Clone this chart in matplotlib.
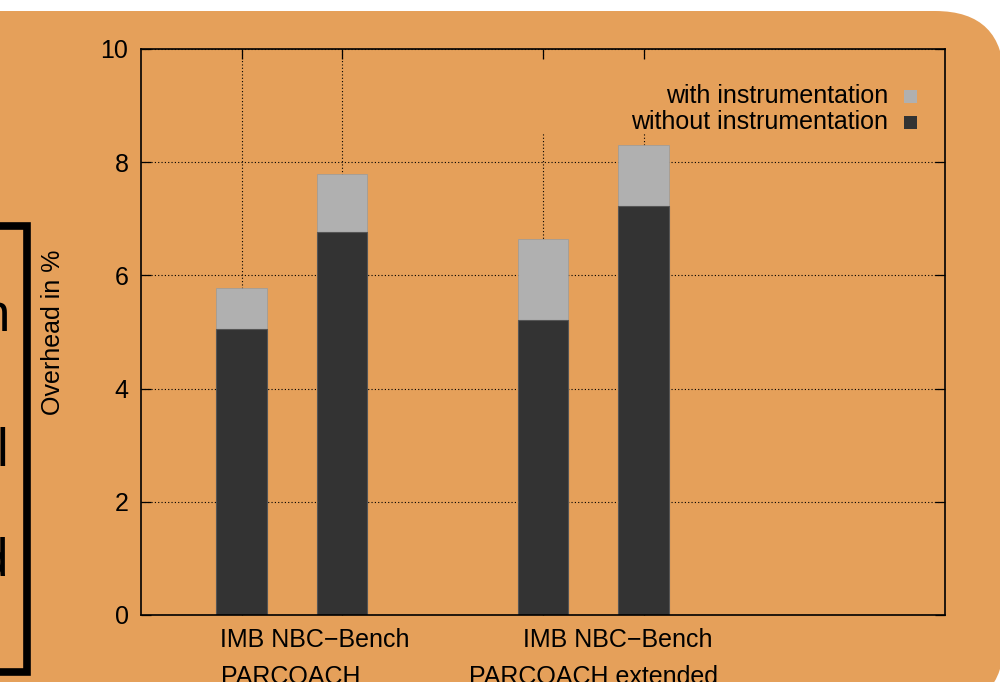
import matplotlib
matplotlib.use("Agg")
import matplotlib.pyplot as plt
from matplotlib.patches import FancyBboxPatch, Rectangle

plt.rcParams['font.family'] = ['Liberation Sans', 'DejaVu Sans']

# ---- data ----
bar_positions = [1, 2, 4, 5]
with_instr = [5.78, 7.79, 6.64, 8.30]
without_instr = [5.05, 6.77, 5.21, 7.23]
series_labels = ["with instrumentation", "without instrumentation"]
bench_labels = ["IMB NBC\u2212Bench", "IMB NBC\u2212Bench"]
bench_label_x = [1.73, 4.74]
group_labels = ["PARCOACH", "PARCOACH extended"]
group_label_x = [1.49, 4.5]
yticks = [0, 2, 4, 6, 8, 10]
side_letters = ["n", "l", "d"]

ORANGE = "#E5A05A"
LIGHT = "#B0B0B0"
DARK = "#333333"
W, H = 1000, 682

fig = plt.figure(figsize=(10, 6.82), dpi=100, facecolor="white")

# background (pixel coordinates)
bg = fig.add_axes([0, 0, 1, 1])
bg.set_xlim(0, W)
bg.set_ylim(H, 0)
bg.axis("off")
bg.add_patch(FancyBboxPatch((-200, 11), 1204, 698,
                            boxstyle="round,pad=0,rounding_size=69",
                            facecolor=ORANGE, edgecolor="none"))
bg.add_patch(Rectangle((-60, 226), 87, 446, facecolor="none",
                       edgecolor="black", linewidth=5.5))
for letter, xr, yb in zip(side_letters, [10, 8, 8], [331, 466, 575]):
    bg.text(xr, yb, letter, ha="right", va="baseline", fontsize=38, color="black")

# main axes
ax = fig.add_axes([141 / W, (H - 615) / H, 804 / W, 566 / H])
ax.patch.set_alpha(0)
ax.set_xlim(0, 8)
ax.set_ylim(0, 10)

ax.bar(bar_positions, with_instr, width=0.5, color=LIGHT, edgecolor="#9a9a9a",
       linewidth=0.5, zorder=3)
ax.bar(bar_positions, without_instr, width=0.5, color=DARK, edgecolor="#555555",
       linewidth=0.8, zorder=4)

ax.set_xticks(bar_positions)
ax.set_xticklabels([])
ax.set_yticks(yticks)
ax.set_yticklabels([str(v) for v in yticks])
ax.tick_params(axis="both", direction="in", length=7, width=0.9, top=True, right=True,
               labelsize=18, pad=9, color="black")
ax.grid(True, linestyle=(0, (1, 2)), color="black", linewidth=0.8, zorder=0)
for s in ax.spines.values():
    s.set_linewidth(1.2)
    s.set_zorder(6)

ax.set_ylabel("Overhead in %", fontsize=18)
ax.yaxis.set_label_coords(-0.094, 0.5)

tr = ax.get_xaxis_transform()
for lab, xx in zip(bench_labels, bench_label_x):
    ax.text(xx, -0.0442, lab, transform=tr, ha="center", va="center", fontsize=18, clip_on=False)
for lab, xx in zip(group_labels, group_label_x):
    ax.text(xx, -0.1095, lab, transform=tr, ha="center", va="center", fontsize=18, clip_on=False)

# key overlay (pixel coordinates)
ov = fig.add_axes([0, 0, 1, 1])
ov.set_xlim(0, W)
ov.set_ylim(H, 0)
ov.axis("off")
ov.add_patch(Rectangle((520, 60), 415, 73, facecolor=ORANGE, edgecolor="none"))
for i, (lab, col) in enumerate(zip(series_labels, [LIGHT, DARK])):
    yc = 96 + 26 * i
    ov.text(888, yc, lab, ha="right", va="center", fontsize=18)
    ov.add_patch(Rectangle((904, yc - 6.5), 13, 13, facecolor=col, edgecolor="none"))

fig.savefig("out.png", dpi=100, facecolor="white")
